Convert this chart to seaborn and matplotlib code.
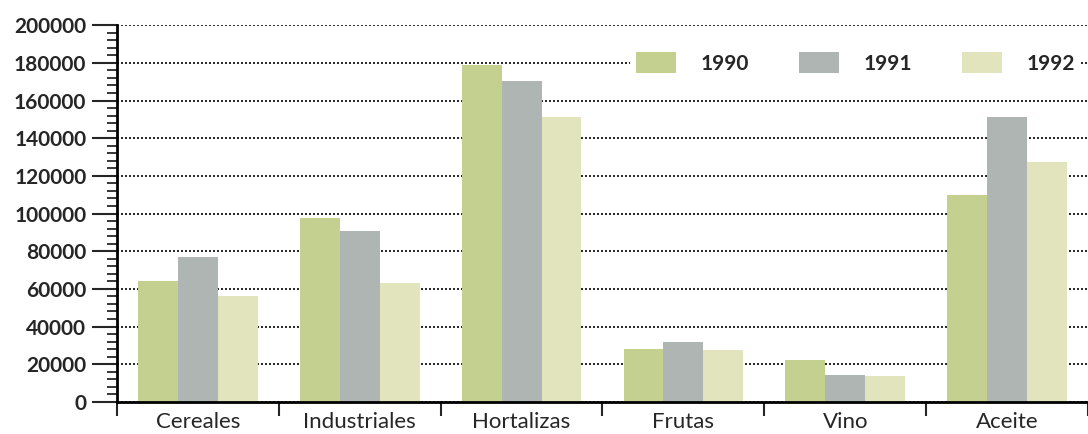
import seaborn as sns
import matplotlib.pyplot as plt
import pandas as pd
from matplotlib.ticker import MultipleLocator, FixedLocator, NullFormatter

categorias = ["Cereales", "Industriales", "Hortalizas", "Frutas", "Vino", "Aceite"]
anios = ["1990", "1991", "1992"]
v1990 = [64000, 97500, 179000, 28000, 22500, 110000]
v1991 = [77000, 90500, 170500, 32000, 14500, 151000]
v1992 = [56000, 63000, 151000, 27500, 14000, 127500]
colores = ["#c4d090", "#afb5b2", "#e1e4bd"]

rows = []
for anio, vals in zip(anios, [v1990, v1991, v1992]):
    for c, v in zip(categorias, vals):
        rows.append({"cat": c, "anio": anio, "valor": v})
df = pd.DataFrame(rows)

sns.set_style("white")
plt.rcParams["font.family"] = ["Lato", "DejaVu Sans"]

fig = plt.figure(figsize=(10.88, 4.34), dpi=100)
ax = fig.add_axes([0.1075, 0.074, 0.8925, 0.868])

sns.barplot(data=df, x="cat", y="valor", hue="anio", order=categorias,
            hue_order=anios, palette=colores, width=0.74, gap=0,
            saturation=1, linewidth=0, ax=ax)

ax.set_xlim(-0.5, 5.5)
ax.set_ylim(0, 200000)
ax.set_xlabel("")
ax.set_ylabel("")

# y axis
ax.yaxis.set_major_locator(MultipleLocator(20000))
ax.yaxis.set_minor_locator(MultipleLocator(4000))
ax.tick_params(axis="y", which="major", direction="out", length=18, width=1.5,
               labelsize=15, pad=4, left=True)
ax.tick_params(axis="y", which="minor", direction="out", length=7, width=1.3, left=True)
for t in ax.get_yticklabels():
    t.set_fontweight("bold")
ax.yaxis.grid(True, which="major", color="black", linestyle=(0, (1.2, 1.2)), linewidth=1.2)
ax.set_axisbelow(True)

# x axis: ticks at boundaries, labels at centers
ax.xaxis.set_major_locator(FixedLocator([i - 0.5 for i in range(7)]))
ax.xaxis.set_major_formatter(NullFormatter())
ax.xaxis.set_minor_locator(FixedLocator(list(range(6))))
ax.set_xticklabels(categorias, minor=True, fontsize=16)
ax.tick_params(axis="x", which="major", direction="out", length=10, width=1.5, bottom=True)
ax.tick_params(axis="x", which="minor", length=0, pad=7)

for s in ["top", "right"]:
    ax.spines[s].set_visible(False)
for s in ["left", "bottom"]:
    ax.spines[s].set_color("black")
    ax.spines[s].set_linewidth(2)

leg = ax.legend(loc="center right", bbox_to_anchor=(1.004, 0.9), ncol=3, frameon=True,
                prop={"size": 15, "weight": "bold"}, handlelength=1.9, handleheight=1.2,
                columnspacing=2.4, handletextpad=1.2, borderpad=0.3)
leg.get_frame().set_facecolor("white")
leg.get_frame().set_edgecolor("none")
leg.get_frame().set_alpha(1)
leg.get_frame().set_boxstyle("square", pad=0)

fig.savefig("out.png", dpi=100, facecolor="white")
